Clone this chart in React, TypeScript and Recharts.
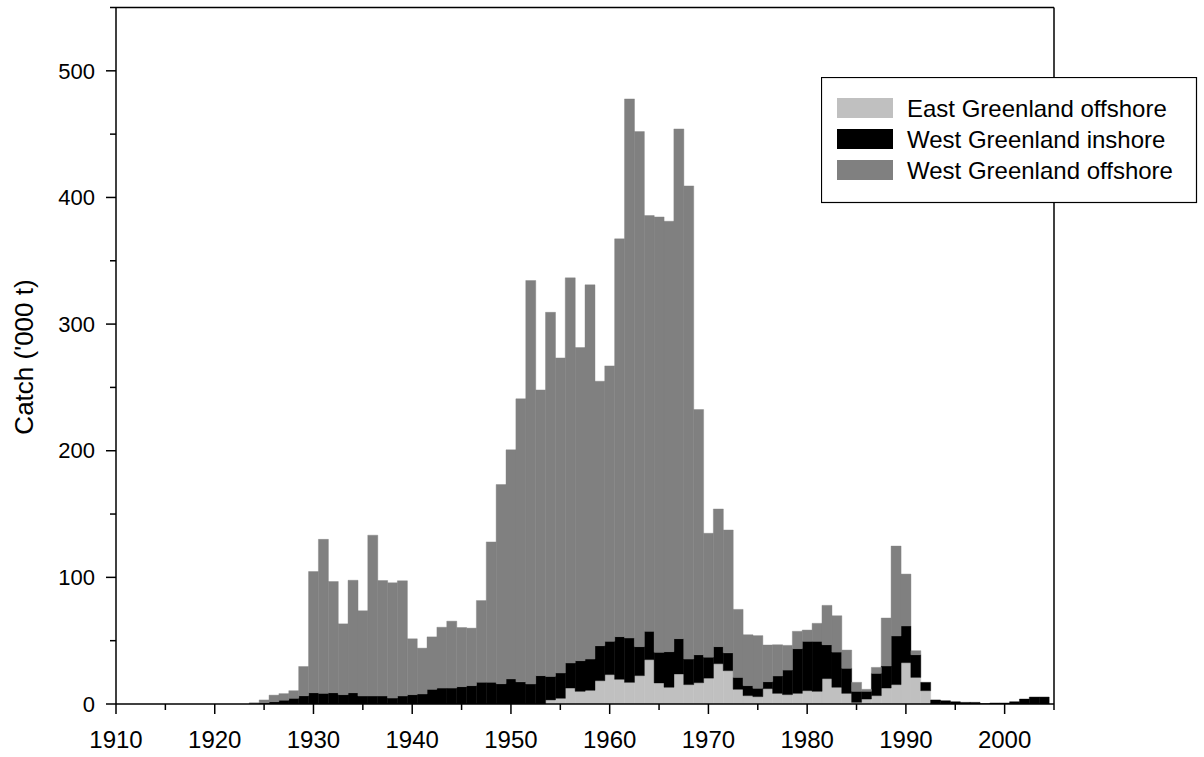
import React from 'react';
import { BarChart, Bar, XAxis, YAxis, Legend, ReferenceLine } from 'recharts';

const FONT = 'Liberation Sans, Arial, Helvetica, sans-serif';

// catches in '000 t, one value per year starting at FIRST_YEAR
const FIRST_YEAR = 1924;

const eastOffshore = [
  0, 0, 0, 0, 0, 0, // 1924-1929
  0, 0, 0, 0, 0, 0, 0, 0, 0, 0, // 1930s
  0, 0, 0, 0, 0, 0, 0, 0, 0, 0, // 1940s
  0, 0, 0, 0, 3.2, 4.5, 12.6, 10.0, 10.8, 18.4, // 1950s
  23.2, 19.5, 17.1, 22.4, 35.0, 16.6, 13.2, 23.7, 15.3, 16.8, // 1960s
  20.4, 31.8, 26.3, 11.6, 6.6, 5.8, 12.1, 8.4, 7.4, 8.4, // 1970s
  10.5, 10.0, 20.0, 13.2, 8.4, 1.3, 3.9, 6.6, 12.6, 15.3, // 1980s
  32.6, 21.0, 10.5, 0, 0, 0, 0, 0, 0, 0, // 1990s
  0, 0, 0, 0, 0, // 2000-2004
];

const westInshore = [
  0.3, 0.8, 1.8, 3.0, 4.5, 6.5,
  8.9, 8.4, 8.9, 7.4, 8.9, 6.3, 6.3, 6.3, 4.7, 6.3,
  7.4, 7.9, 11.6, 12.6, 12.6, 13.7, 14.5, 17.2, 17.2, 16.0,
  19.8, 17.5, 15.8, 22.4, 18.6, 20.0, 19.8, 24.2, 24.7, 27.6,
  26.3, 33.7, 35.0, 22.9, 22.4, 24.2, 28.1, 27.9, 20.2, 22.1,
  16.6, 13.5, 14.1, 9.4, 7.9, 6.6, 5.5, 13.7, 19.4, 35.3,
  39.0, 39.5, 26.8, 27.8, 19.8, 8.7, 6.1, 17.6, 17.4, 38.4,
  29.0, 17.9, 6.6, 3.2, 2.6, 1.8, 1.3, 1.3, 0.3, 0.8,
  0.8, 1.8, 3.9, 5.5, 5.5,
];

const westOffshore = [
  0.7, 2.4, 5.2, 5.2, 6.0, 23.1,
  95.7, 121.6, 87.8, 55.9, 88.8, 67.3, 127.0, 91.2, 91.0, 91.0,
  44.1, 36.2, 41.4, 48.0, 52.8, 46.7, 45.4, 64.5, 110.8, 157.3,
  180.9, 223.5, 318.6, 225.6, 287.5, 248.8, 304.1, 247.3, 295.5, 208.9,
  217.5, 314.1, 425.7, 406.7, 328.3, 343.8, 339.9, 402.5, 373.6, 193.6,
  97.8, 108.7, 97.0, 53.7, 40.2, 41.6, 29.0, 24.7, 19.5, 13.7,
  8.9, 14.2, 31.1, 28.7, 14.4, 7.1, 1.6, 4.7, 37.9, 71.0,
  41.0, 3.2, 0, 0, 0, 0, 0, 0, 0, 0,
  0, 0, 0, 0, 0,
];

const xTicks = [1910, 1915, 1920, 1925, 1930, 1935, 1940, 1945, 1950, 1955, 1960, 1965, 1970, 1975, 1980, 1985, 1990, 1995, 2000, 2005];
const yTicks = [0, 50, 100, 150, 200, 250, 300, 350, 400, 450, 500, 550];

const data = eastOffshore.map((v, i) => ({
  year: FIRST_YEAR + i,
  east: v,
  wIn: westInshore[i],
  wOff: westOffshore[i],
}));

const XTick = ({ x, y, payload }: any) => {
  const major = payload.value % 10 === 0;
  return (
    <g>
      <line x1={x} x2={x} y1={y} y2={y + (major ? 10 : 6)} stroke="#000" strokeWidth={1.5} />
      {major && (
        <text x={x} y={y + 44} textAnchor="middle" fontSize={24} fontFamily={FONT} fill="#000">
          {payload.value}
        </text>
      )}
    </g>
  );
};

const YTick = ({ x, y, payload }: any) => {
  const major = payload.value % 100 === 0;
  return (
    <g>
      <line x1={x - (major ? 10 : 6)} x2={x} y1={y} y2={y} stroke="#000" strokeWidth={1.5} />
      {major && (
        <text x={x - 21} y={y} dy="0.35em" textAnchor="end" fontSize={22} fontFamily={FONT} fill="#000">
          {payload.value}
        </text>
      )}
    </g>
  );
};

const YTitle = () => (
  <text
    x={33}
    y={357}
    transform="rotate(-90 33 357)"
    textAnchor="middle"
    fontSize={26}
    fontFamily={FONT}
    fill="#000"
  >
    Catch ('000 t)
  </text>
);

const renderLegend = ({ payload }: any) => (
  <svg width={377} height={127}>
    <rect x={0.5} y={0.5} width={375} height={125} fill="#fff" stroke="#000" strokeWidth={1.2} />
    {(payload || []).map((p: any, i: number) => (
      <g key={p.value}>
        <rect x={16} y={21 + i * 31} width={56} height={20} fill={p.color} />
        <text x={86} y={40 + i * 31} fontSize={24} fontFamily={FONT} fill="#000">
          {p.value}
        </text>
      </g>
    ))}
  </svg>
);

export default function App() {
  return (
    <div style={{ position: 'absolute', left: 0, top: 0, background: '#fff' }}>
      <BarChart
        width={1204}
        height={757}
        data={data}
        margin={{ top: 7.5, right: 150, bottom: 0, left: 0 }}
        barCategoryGap={0}
        barGap={0}
      >
        <XAxis
          dataKey="year"
          type="number"
          domain={[1910, 2005]}
          ticks={xTicks}
          interval={0}
          height={53}
          tickSize={0}
          tickMargin={0}
          tick={<XTick />}
          axisLine={{ stroke: '#000', strokeWidth: 1.5 }}
          allowDataOverflow
        />
        <YAxis
          type="number"
          domain={[0, 550]}
          ticks={yTicks}
          interval={0}
          width={116}
          tickSize={0}
          tickMargin={0}
          tick={<YTick />}
          axisLine={{ stroke: '#000', strokeWidth: 1.5 }}
          label={{ content: () => <YTitle /> }}
          allowDataOverflow
        />
        <ReferenceLine y={550} stroke="#000" strokeWidth={1.5} />
        <ReferenceLine x={2005} stroke="#000" strokeWidth={1.5} />
        <Legend
          layout="horizontal"
          verticalAlign="middle"
          align="center"
          content={renderLegend}
          wrapperStyle={{ position: 'absolute', left: 821, top: 77, width: 377, height: 127 }}
        />
        <Bar dataKey="east" name="East Greenland offshore" stackId="c" fill="#c0c0c0" stroke="#c0c0c0" strokeWidth={0.4} isAnimationActive={false} />
        <Bar dataKey="wIn" name="West Greenland inshore" stackId="c" fill="#000000" stroke="#000000" strokeWidth={0.4} isAnimationActive={false} />
        <Bar dataKey="wOff" name="West Greenland offshore" stackId="c" fill="#808080" stroke="#808080" strokeWidth={0.4} isAnimationActive={false} />
      </BarChart>
    </div>
  );
}
